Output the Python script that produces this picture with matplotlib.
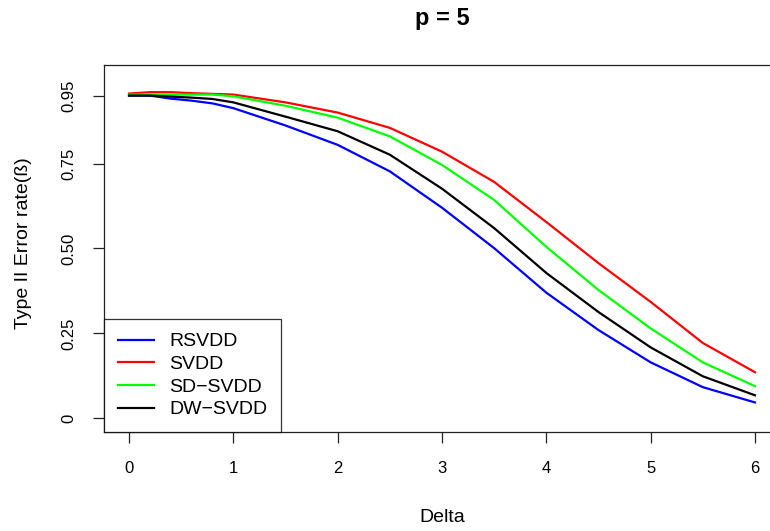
import matplotlib
matplotlib.use("Agg")
import matplotlib.pyplot as plt

plt.rcParams['font.family'] = ['Liberation Sans', 'DejaVu Sans']

delta = [0, 0.2, 0.4, 0.6, 0.8, 1.0, 1.5, 2.0, 2.5, 3.0, 3.5, 4.0, 4.5, 5.0, 5.5, 6.0]

rsvdd = [0.950, 0.950, 0.941, 0.935, 0.927, 0.913, 0.862, 0.805, 0.727, 0.620,
         0.501, 0.370, 0.260, 0.165, 0.092, 0.047]
svdd = [0.956, 0.960, 0.960, 0.957, 0.955, 0.953, 0.930, 0.900, 0.855, 0.785,
        0.696, 0.578, 0.457, 0.343, 0.222, 0.136]
sdsvdd = [0.953, 0.953, 0.953, 0.953, 0.953, 0.948, 0.920, 0.885, 0.830, 0.746,
          0.643, 0.505, 0.378, 0.265, 0.165, 0.095]
dwsvdd = [0.950, 0.950, 0.947, 0.944, 0.940, 0.930, 0.888, 0.845, 0.776, 0.676,
          0.560, 0.428, 0.313, 0.209, 0.124, 0.068]

series = [("RSVDD", rsvdd, "#0000ff"),
          ("SVDD", svdd, "#ff0000"),
          ("SD\u2212SVDD", sdsvdd, "#00ff00"),
          ("DW\u2212SVDD", dwsvdd, "#000000")]

xticks = [0, 1, 2, 3, 4, 5, 6]
yticks = [0, 0.25, 0.50, 0.75, 0.95]
ytick_labels = ["0", "0.25", "0.50", "0.75", "0.95"]

W, H = 770, 531
fig = plt.figure(figsize=(W / 100, H / 100), dpi=100)
ax = fig.add_axes([104 / W, (H - 432) / H, (780 - 104) / W, (432 - 65) / H])

for name, vals, col in series:
    ax.plot(delta, vals, color=col, lw=1.6, label=name, solid_joinstyle='round')

ax.set_xlim(-0.24, 6.24)
ax.set_ylim(-0.04, 1.04)
ax.set_xticks(xticks)
ax.set_xticklabels([str(t) for t in xticks])
ax.set_yticks(yticks)
ax.set_yticklabels(ytick_labels, rotation=90, va='center')

for s in ax.spines.values():
    s.set_linewidth(0.9)
    s.set_color('#222222')

ax.tick_params(axis='both', direction='out', length=8, width=0.9,
               colors='#222222', labelcolor='black', labelsize=12)
ax.tick_params(axis='x', pad=13)
ax.tick_params(axis='y', pad=12)

ax.set_xlabel("Delta", fontsize=14, va='center')
ax.xaxis.set_label_coords(0.5, (432 - 517.5) / 367)
ax.set_ylabel("Type II Error rate(ß)", fontsize=14, va='center')
ax.yaxis.set_label_coords((24 - 104) / 676, 0.516)

fig.text(442 / W, 1 - 19 / H, "p = 5", ha='center', va='center',
         fontsize=17, fontweight='bold')

leg = ax.legend(loc='lower left', borderaxespad=0, fancybox=False,
                frameon=True, fontsize=14, handlelength=1.85,
                handletextpad=0.82, labelspacing=0.26, borderpad=0.7)
leg.get_frame().set_edgecolor('black')
leg.get_frame().set_linewidth(0.9)

fig.savefig("out.png", dpi=100)
